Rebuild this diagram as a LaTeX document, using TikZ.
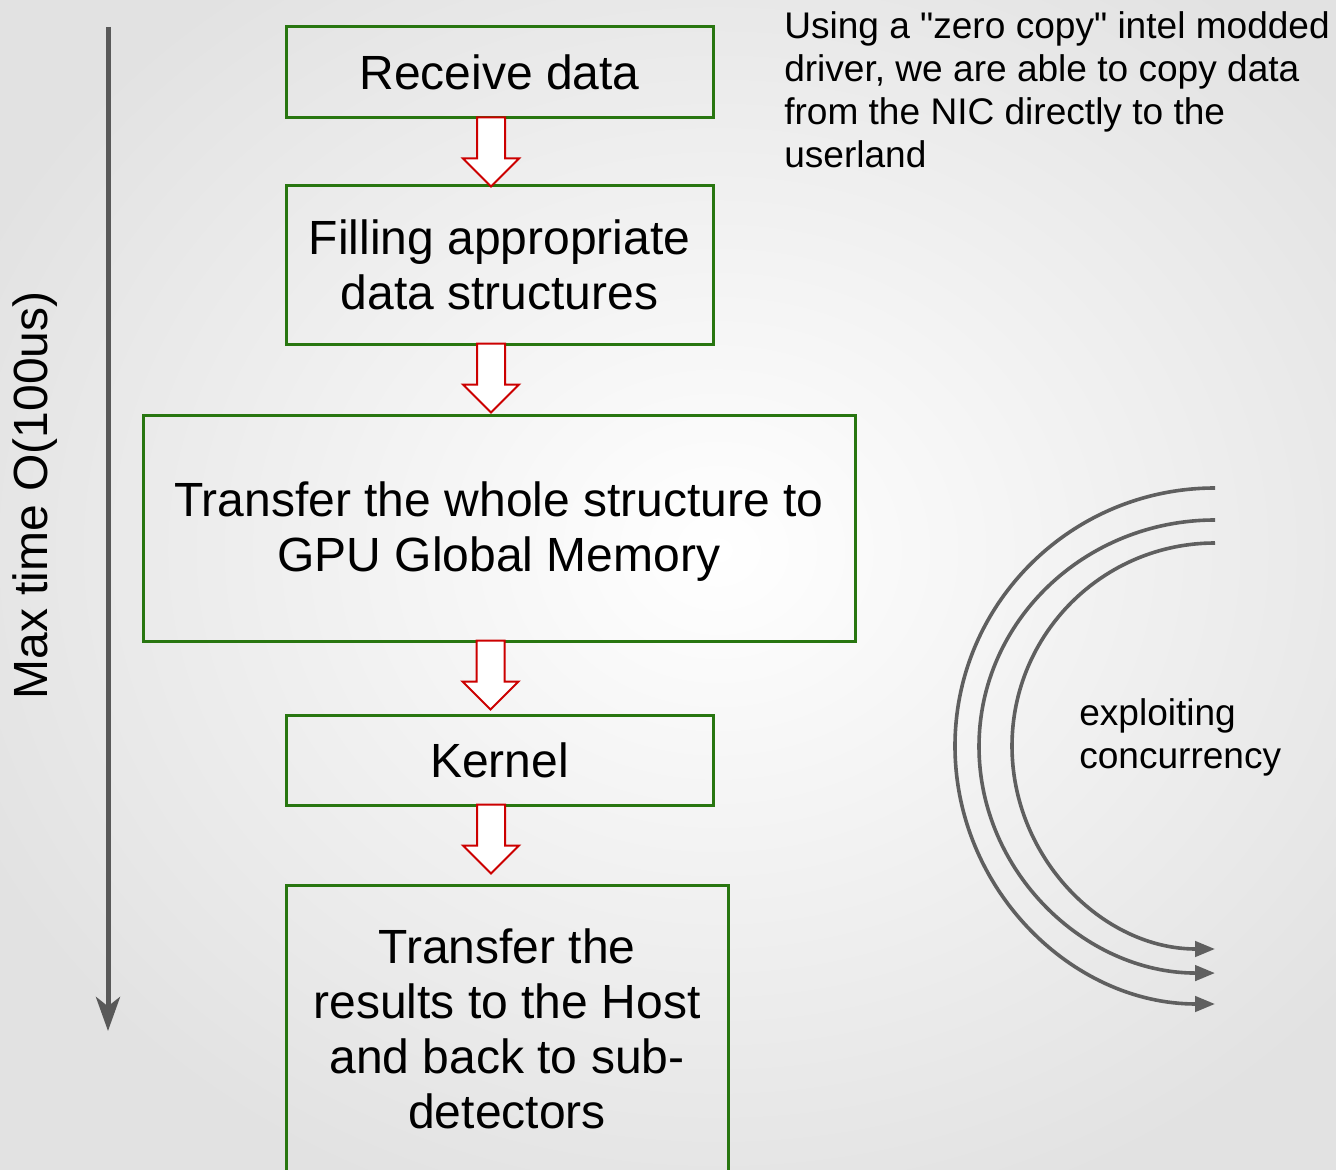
\documentclass[tikz,border=0pt]{standalone}
\usepackage{fontspec}
\setmainfont{Liberation Sans}
\newfontfamily\plainsans{Liberation Sans}[Ligatures=ResetAll]
\usetikzlibrary{arrows.meta,calc}
\definecolor{boxgreen}{RGB}{40,118,16}
\definecolor{arrred}{RGB}{204,0,0}
\definecolor{linegray}{RGB}{95,95,95}
\definecolor{timegray}{RGB}{89,89,89}
\definecolor{bggray}{RGB}{226,226,226}
\tikzset{
  flowbox/.style={draw=boxgreen, line width=2.25pt, align=center, inner sep=0pt,
    font=\fontsize{36}{41.25}\selectfont},
  boxtext/.style={align=center, inner sep=0pt, font=\fontsize{36}{41.25}\selectfont},
  blockarrow/.style={draw=arrred, line width=1.5pt, fill=white, line join=miter},
  concarc/.style={draw=linegray, line width=2.7pt, -{Triangle[length=15pt,width=11.5pt]}},
  timearrow/.style={draw=timegray, line width=3.75pt, -{Stealth[length=25.5pt,width=18pt,inset=7pt]}},
  smalltext/.style={align=left, inner sep=0pt, font=\fontsize{27.8}{32.25}\selectfont}
}
\newcommand{\blockarr}[1]{\draw[blockarrow] ($(#1.south)+(-22.5,-2)$) -- ++(0,41) -- ++(-14,0) -- ++(28,28) -- ++(28,-28) -- ++(-14,0) -- ++(0,-41) -- cycle;}
\newcommand{\sq}{{\plainsans\char34}}
\begin{document}
\begin{tikzpicture}[x=0.75pt, y=-0.75pt]
  \useasboundingbox (0,0) rectangle (1336,1170);
  \begin{scope}
    \clip (0,0) rectangle (1336,1170);
    \shade[inner color=white, outer color=bggray] (-100,-150) rectangle (1536,1250);
  \end{scope}

  % time axis
  \coordinate (t0) at (108,27);
  \coordinate (t1) at (108,1031);
  \draw[timearrow] (t0) -- (t1);
  \node[rotate=90, inner sep=0pt, font=\fontsize{36}{41.25}\selectfont] (tlabel) at (35,495.5) {Max time O(100us)};

  % boxes
  \node[flowbox, minimum width=320.25pt, minimum height=68.25pt] (b1) at (499.5,72.5) {Receive data};
  \node[flowbox, minimum width=320.25pt, minimum height=118.5pt] (b2) at (499.5,265) {Filling appropriate\\data structures};
  \node[flowbox, minimum width=534pt, minimum height=169.5pt] (b3) at (499,528) {};
  \node[boxtext] (b3text) at ($(b3.center)+(0,4)$) {Transfer the whole structure to\\GPU Global Memory};
  \node[flowbox, minimum width=320.25pt, minimum height=67.5pt] (b4) at (499.5,760) {Kernel};
  \node[flowbox, minimum width=331.5pt, minimum height=216pt] (b5) at (507,1029) {Transfer the\\results to the Host\\and back to sub-\\detectors};

  % block arrows
  \blockarr{b1}
  \blockarr{b2}
  \blockarr{b3}
  \blockarr{b4}

  % top-right note
  \node[smalltext, anchor=base west] (note) at (784,168) {Using a \sq zero copy\sq\ intel modded\\driver, we are able to copy data\\from the NIC directly to the\\userland};

  % concurrency arcs
  \coordinate (a1) at (1215,488);
  \coordinate (a2) at (1215,520);
  \coordinate (a3) at (1215,543);
  \draw[concarc] (a1) arc[start angle=90, end angle=270, x radius=195pt, y radius=193.5pt];
  \draw[concarc] (a2) arc[start angle=90, end angle=270, x radius=177pt, y radius=169.9pt];
  \draw[concarc] (a3) arc[start angle=90, end angle=270, x radius=152.25pt, y radius=152.25pt];
  \node[smalltext, anchor=base west] (conc) at (1079,768) {exploiting\\concurrency};
\end{tikzpicture}
\end{document}
